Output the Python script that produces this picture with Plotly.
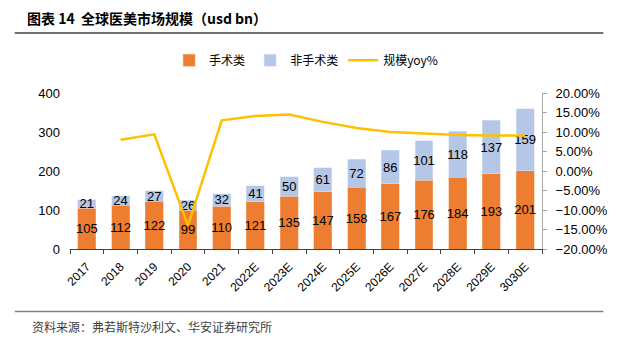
import plotly.graph_objects as go

categories = ["2017", "2018", "2019", "2020", "2021", "2022E", "2023E", "2024E",
              "2025E", "2026E", "2027E", "2028E", "2029E", "3030E"]
surgical = [105, 112, 122, 99, 110, 121, 135, 147, 158, 167, 176, 184, 193, 201]
non_surgical = [21, 24, 27, 26, 32, 41, 50, 61, 72, 86, 101, 118, 137, 159]
yoy = [None, 0.080, 0.094, -0.140, 0.130, 0.141, 0.145, 0.126, 0.110, 0.100,
       0.096, 0.092, 0.091, 0.091]

num_font = "Liberation Sans, Arial, sans-serif"
cjk_font = "Noto Sans CJK SC, sans-serif"

fig = go.Figure()
fig.add_trace(go.Bar(
    x=categories, y=surgical, name="手术类",
    marker=dict(color="#ED7D31", line=dict(color="#F4B183", width=0.5)),
    text=[str(v) for v in surgical], textposition="inside", textangle=0,
    insidetextanchor="middle", constraintext="none", cliponaxis=False,
    textfont=dict(color="black", size=13, family=num_font),
))
fig.add_trace(go.Bar(
    x=categories, y=non_surgical, name="非手术类",
    marker=dict(color="#B4C7E7", line=dict(color="#DAE3F3", width=0.5)),
    text=[str(v) for v in non_surgical], textposition="inside", textangle=0,
    insidetextanchor="middle", constraintext="none", cliponaxis=False,
    textfont=dict(color="black", size=13, family=num_font),
))
fig.add_trace(go.Scatter(
    x=categories, y=yoy, name="规模yoy%", yaxis="y2", mode="lines",
    line=dict(color="#FFC000", width=2.5), connectgaps=False,
))

fig.update_layout(
    width=620, height=340,
    margin=dict(l=70, r=78, t=93, b=91),
    paper_bgcolor="white", plot_bgcolor="white",
    barmode="stack", bargap=0.47,
    font=dict(family=num_font, size=13, color="black"),
    showlegend=True,
    legend=dict(orientation="h", x=0.21, y=1.21, xanchor="left", yanchor="middle",
                font=dict(family=cjk_font, size=12, color="black"),
                itemwidth=30, traceorder="normal", bgcolor="rgba(0,0,0,0)"),
    xaxis=dict(
        type="category", showgrid=False, showline=True, linecolor="#404040",
        linewidth=1, ticks="outside", tickson="boundaries", ticklen=4,
        tickcolor="#404040", tickangle=-45, ticklabelstandoff=5,
        tickfont=dict(size=12, family=num_font),
    ),
    yaxis=dict(
        range=[0, 400], dtick=100, showgrid=False, showline=False, zeroline=False,
        ticks="", ticklabelstandoff=9, tickfont=dict(size=13, family=num_font),
    ),
    yaxis2=dict(
        overlaying="y", side="right", range=[-0.2, 0.2], dtick=0.05,
        tickformat=".2%", showgrid=False, zeroline=False, showline=True,
        linecolor="#A6A6A6", linewidth=1, ticks="outside", ticklen=4,
        tickcolor="#A6A6A6", ticklabelstandoff=6, tickfont=dict(size=13, family=num_font),
    ),
    annotations=[
        dict(text="<b>图表 14  全球医美市场规模（usd bn）</b>", xref="paper", yref="paper",
             x=-0.095, y=1.48, xanchor="left", yanchor="middle", showarrow=False,
             font=dict(family=cjk_font, size=14, color="black")),
        dict(text="资料来源：弗若斯特沙利文、华安证券研究所", xref="paper", yref="paper",
             x=-0.085, y=-0.495, xanchor="left", yanchor="middle", showarrow=False,
             font=dict(family=cjk_font, size=12, color="#404040")),
    ],
    shapes=[
        dict(type="line", xref="paper", yref="paper", x0=-0.117, x1=1.13,
             y0=1.385, y1=1.385, line=dict(color="#404040", width=1.5)),
        dict(type="line", xref="paper", yref="paper", x0=-0.117, x1=1.13,
             y0=-0.4, y1=-0.4, line=dict(color="#808080", width=1.5)),
    ],
)

fig.write_html("out.html")
